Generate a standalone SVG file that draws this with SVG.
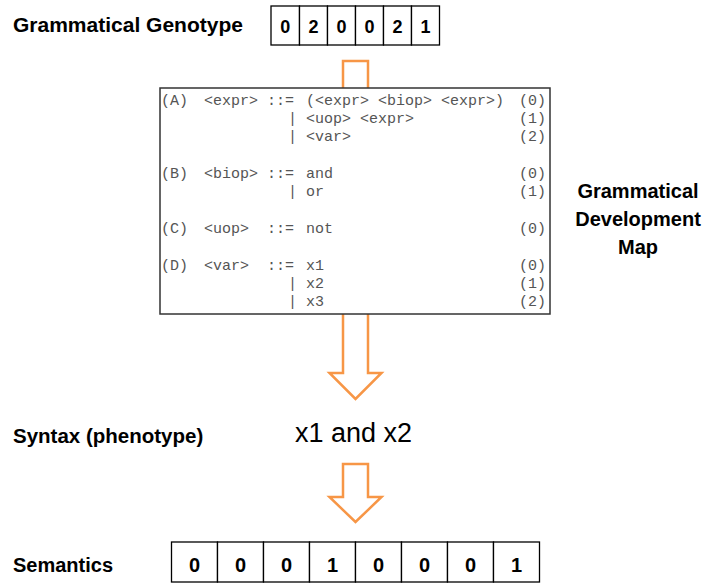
<svg xmlns="http://www.w3.org/2000/svg" width="704" height="584" viewBox="0 0 704 584">
<style>
.lbl{font-family:"Liberation Sans",Arial,sans-serif;font-weight:bold;fill:#000}
.dig{font-family:"Liberation Sans",Arial,sans-serif;font-weight:bold;fill:#000;text-anchor:middle}
.cell{fill:#fff;stroke:#000;stroke-width:1.3}
.arrow{fill:#fff;stroke:#F79646;stroke-width:2.5;stroke-linejoin:miter}
.g{font-family:"Liberation Mono","Courier New",monospace;font-size:15px;fill:#555;white-space:pre}
</style>
<rect width="704" height="584" fill="#fff"/>
<g id="connectors">
<polygon class="arrow" points="343,61 368,61 368,373 381.5,373 355.5,399 329.5,373 343,373"/>
<polygon class="arrow" points="343,464 368,464 368,497 381.5,497 355.5,522 329.5,497 343,497"/>
</g>
<g id="genotype-label"><text class="lbl" x="13" y="32" font-size="21">Grammatical Genotype</text></g>
<g id="genotype">
<rect class="cell" x="271" y="6" width="28.5" height="39"/>
<rect class="cell" x="299.5" y="6" width="28" height="39"/>
<rect class="cell" x="327.5" y="6" width="28" height="39"/>
<rect class="cell" x="355.5" y="6" width="28" height="39"/>
<rect class="cell" x="383.5" y="6" width="28" height="39"/>
<rect class="cell" x="411.5" y="6" width="28" height="39"/>
<g font-size="18">
<text class="dig" x="285.2" y="32.5">0</text>
<text class="dig" x="313.5" y="32.5">2</text>
<text class="dig" x="341.5" y="32.5">0</text>
<text class="dig" x="369.5" y="32.5">0</text>
<text class="dig" x="397.5" y="32.5">2</text>
<text class="dig" x="425.5" y="32.5">1</text>
</g>
</g>
<g id="grammar">
<rect x="160" y="88" width="390" height="226" fill="#fff" stroke="#333" stroke-width="1.5"/>
<text class="g" x="161" y="105">(A)</text><text class="g" x="204" y="105">&lt;expr&gt;</text><text class="g" x="267" y="105">::=</text><text class="g" x="306" y="105">(&lt;expr&gt; &lt;biop&gt; &lt;expr&gt;)</text><text class="g" x="519" y="105">(0)</text>
<text class="g" x="288" y="123">| &lt;uop&gt; &lt;expr&gt;</text><text class="g" x="519" y="123">(1)</text>
<text class="g" x="288" y="141">| &lt;var&gt;</text><text class="g" x="519" y="141">(2)</text>
<text class="g" x="161" y="178">(B)</text><text class="g" x="204" y="178">&lt;biop&gt;</text><text class="g" x="267" y="178">::=</text><text class="g" x="306" y="178">and</text><text class="g" x="519" y="178">(0)</text>
<text class="g" x="288" y="196">| or</text><text class="g" x="519" y="196">(1)</text>
<text class="g" x="161" y="233">(C)</text><text class="g" x="204" y="233">&lt;uop&gt;</text><text class="g" x="267" y="233">::=</text><text class="g" x="306" y="233">not</text><text class="g" x="519" y="233">(0)</text>
<text class="g" x="161" y="269.5">(D)</text><text class="g" x="204" y="269.5">&lt;var&gt;</text><text class="g" x="267" y="269.5">::=</text><text class="g" x="306" y="269.5">x1</text><text class="g" x="519" y="269.5">(0)</text>
<text class="g" x="288" y="288">| x2</text><text class="g" x="519" y="288">(1)</text>
<text class="g" x="288" y="306">| x3</text><text class="g" x="519" y="306">(2)</text>
</g>
<g id="gdm-label">
<text class="lbl" x="638" y="198" font-size="20" text-anchor="middle">Grammatical</text>
<text class="lbl" x="638" y="226" font-size="20" text-anchor="middle">Development</text>
<text class="lbl" x="638" y="254" font-size="20" text-anchor="middle">Map</text>
</g>
<g id="syntax-label"><text class="lbl" x="13" y="443" font-size="20.5">Syntax (phenotype)</text></g>
<g id="phenotype"><text x="295" y="442" font-family="'Liberation Sans',Arial,sans-serif" font-size="27" fill="#000">x1 and x2</text></g>
<g id="semantics-label"><text class="lbl" x="13" y="572" font-size="20">Semantics</text></g>
<g id="semantics">
<rect class="cell" x="171.5" y="542" width="46" height="40"/>
<rect class="cell" x="217.5" y="542" width="46" height="40"/>
<rect class="cell" x="263.5" y="542" width="46" height="40"/>
<rect class="cell" x="309.5" y="542" width="46" height="40"/>
<rect class="cell" x="355.5" y="542" width="46" height="40"/>
<rect class="cell" x="401.5" y="542" width="46" height="40"/>
<rect class="cell" x="447.5" y="542" width="46" height="40"/>
<rect class="cell" x="493.5" y="542" width="46" height="40"/>
<g font-size="20">
<text class="dig" x="194.5" y="572">0</text>
<text class="dig" x="240.5" y="572">0</text>
<text class="dig" x="286.5" y="572">0</text>
<text class="dig" x="332.5" y="572">1</text>
<text class="dig" x="378.5" y="572">0</text>
<text class="dig" x="424.5" y="572">0</text>
<text class="dig" x="470.5" y="572">0</text>
<text class="dig" x="516.5" y="572">1</text>
</g>
</g>
</svg>
